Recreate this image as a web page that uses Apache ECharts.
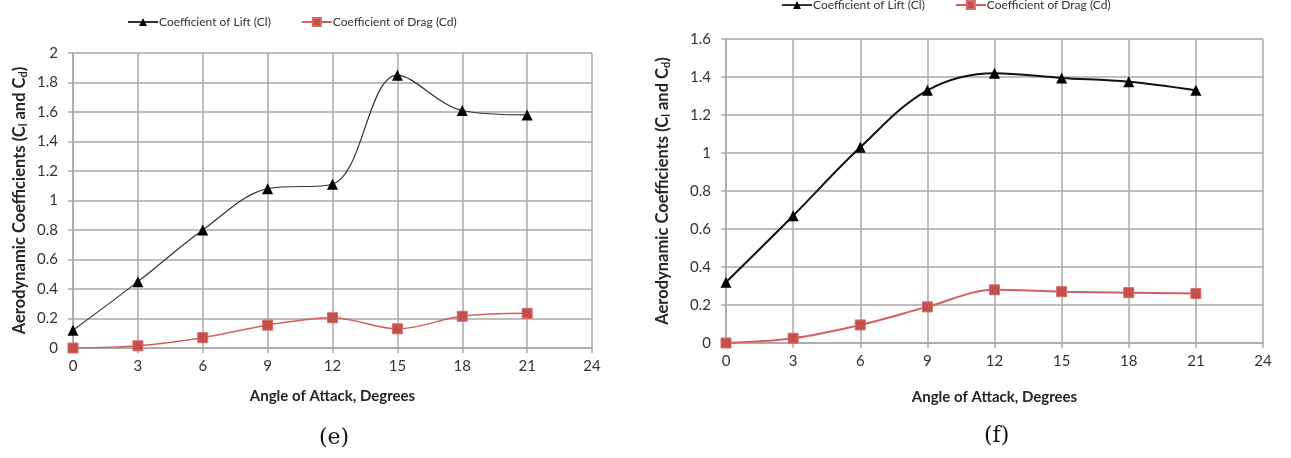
<!DOCTYPE html>
<html>
<head>
<meta charset="utf-8">
<script src="https://cdn.jsdelivr.net/npm/echarts@6/dist/echarts.min.js"></script>
<style>
  html, body { margin: 0; padding: 0; background: #fff; }
  #chart { width: 1291px; height: 458px; }
</style>
</head>
<body>
<div id="chart"></div>
<script>
// Angle of attack (degrees) shared by both panels
const angles = [0, 3, 6, 9, 12, 15, 18, 21];

// Panel (e)
const liftE = [0.12, 0.45, 0.80, 1.08, 1.11, 1.85, 1.61, 1.58];
const dragE = [0.00, 0.015, 0.07, 0.155, 0.205, 0.13, 0.215, 0.235];

// Panel (f)
const liftF = [0.32, 0.67, 1.03, 1.33, 1.42, 1.395, 1.375, 1.33];
const dragF = [0.00, 0.025, 0.095, 0.19, 0.28, 0.27, 0.265, 0.26];

const liftName = 'Coefficient of Lift (Cl)';
const dragName = 'Coefficient of Drag (Cd)';
const xTitle = 'Angle of Attack, Degrees';
const captions = ['(e)', '(f)'];

const pairs = (ys) => angles.map((a, i) => [a, ys[i]]);

const labelFont = 'Lato, "Open Sans", sans-serif';
const gridGray = '#a8a8a8';

function xAxis(gridIndex, gap) {
  return {
    type: 'value', gridIndex, min: 0, max: 24, interval: 3,
    name: xTitle, nameLocation: 'middle', nameGap: gap,
    nameTextStyle: { fontFamily: labelFont, fontWeight: 'bold', fontSize: 15, color: '#262626' },
    axisLine: { show: true, lineStyle: { color: gridGray, width: 1.5 } },
    axisTick: { show: true, length: 5, lineStyle: { color: gridGray, width: 1.5 } },
    axisLabel: { fontFamily: labelFont, fontSize: 15, color: '#333', margin: 11 },
    splitLine: { show: true, lineStyle: { color: gridGray, width: 1.5 } }
  };
}

function yAxis(gridIndex, max, gap) {
  return {
    type: 'value', gridIndex, min: 0, max, interval: 0.2,
    name: 'Aerodynamic Coefficients (C{sub|l} and C{sub|d})',
    nameLocation: 'middle', nameRotate: 90, nameGap: gap,
    nameTextStyle: {
      fontFamily: labelFont, fontWeight: 'bold', fontSize: 16.5, color: '#262626',
      rich: { sub: { fontFamily: labelFont, fontWeight: 'bold', fontSize: 11, color: '#262626', padding: [8, 0, 0, 0] } }
    },
    axisLine: { show: true, lineStyle: { color: gridGray, width: 1.5 } },
    axisTick: { show: true, length: 5, lineStyle: { color: gridGray, width: 1.5 } },
    axisLabel: {
      fontFamily: labelFont, fontSize: 15, color: '#333', margin: 15,
      formatter: (v) => String(Math.round(v * 10) / 10)
    },
    splitLine: { show: true, lineStyle: { color: gridGray, width: 1.5 } }
  };
}

function liftSeries(idx, data, width, color) {
  return {
    type: 'line', name: liftName, xAxisIndex: idx, yAxisIndex: idx,
    data: pairs(data), smooth: 0.35,
    symbol: 'triangle', symbolSize: 11,
    lineStyle: { color, width },
    itemStyle: { color: '#000' },
    z: 3
  };
}

function dragSeries(idx, data, width) {
  return {
    type: 'line', name: dragName, xAxisIndex: idx, yAxisIndex: idx,
    data: pairs(data), smooth: 0.35,
    symbol: 'rect', symbolSize: 10,
    lineStyle: { color: '#d4605e', width },
    itemStyle: { color: '#c4504e', borderColor: '#d86a68', borderWidth: 1 },
    z: 2
  };
}

function legend(left, top) {
  return {
    left, top, itemGap: 30, itemWidth: 30, itemHeight: 10,
    textStyle: { fontFamily: labelFont, fontSize: 12, color: '#333', padding: [0, 0, 0, -4] },
    data: [liftName, dragName].map((n) => ({ name: n })),
    selectedMode: false
  };
}

const chart = echarts.init(document.getElementById('chart'), null, { renderer: 'canvas' });
chart.setOption({
  animation: false,
  backgroundColor: '#fff',
  grid: [
    { left: 73, top: 53, width: 519, height: 295 },
    { left: 726, top: 39, width: 537, height: 304 }
  ],
  xAxis: [xAxis(0, 41), xAxis(1, 47)],
  yAxis: [yAxis(0, 2, 44), yAxis(1, 1.6, 54)],
  legend: [legend(122, 11), legend(776, -6)],
  series: [
    liftSeries(0, liftE, 1.2, '#333'),
    dragSeries(0, dragE, 1.5),
    liftSeries(1, liftF, 2, '#111'),
    dragSeries(1, dragF, 2)
  ],
  graphic: [
    { type: 'text', left: 319, top: 427, style: { text: captions[0], font: '22px "DejaVu Serif", "Liberation Serif", serif', fill: '#111' } },
    { type: 'text', left: 984, top: 425, style: { text: captions[1], font: '22px "DejaVu Serif", "Liberation Serif", serif', fill: '#111' } }
  ]
});
</script>
</body>
</html>
